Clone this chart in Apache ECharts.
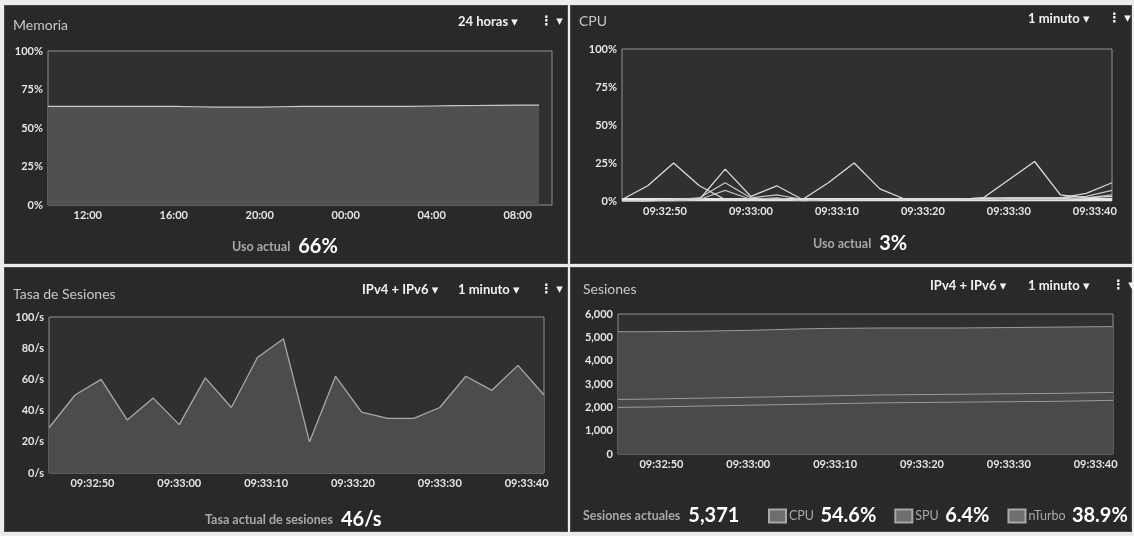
<!DOCTYPE html>
<html><head><meta charset="utf-8">
<script src="https://cdn.jsdelivr.net/npm/echarts@6/dist/echarts.min.js"></script>
<style>
html,body{margin:0;padding:0;background:#eeeeee;}
#wrap{position:relative;width:1134px;height:536px;overflow:hidden;background:#ececec;}
.panel{position:absolute;background:#292929;border:1px solid #474747;box-sizing:border-box;}
#chart{position:absolute;left:0;top:0;width:1134px;height:536px;}
</style></head><body>
<div id="wrap">
<div class="panel" style="left:4px;top:5px;width:564px;height:259px"></div>
<div class="panel" style="left:570px;top:5px;width:562px;height:259px"></div>
<div class="panel" style="left:4px;top:267px;width:564px;height:265px"></div>
<div class="panel" style="left:570px;top:267px;width:562px;height:265px"></div>
<div id="chart"></div>
</div>
<script>
// ---------- DATA ----------
// Memoria (24 horas): hours since 00:00 of the first day
const memHours = [10.15, 11, 12, 13, 14, 15, 16, 17, 18, 19, 20, 21, 22, 23, 24, 25, 26, 27, 28, 29, 30, 31, 32, 33];
const memUsage = [64, 64, 64, 64, 64, 64, 64, 63.8, 63.6, 63.5, 63.6, 63.8, 64, 64, 64, 64, 64, 64.1, 64.3, 64.5, 64.6, 64.7, 64.8, 64.8];
const memTicks = [12, 16, 20, 24, 28, 32];

// 1 minuto: seconds after 09:32:00
const secTimes = [45, 48, 51, 54, 57, 60, 63, 66, 69, 72, 75, 78, 81, 84, 87, 90, 93, 96, 99, 102];
const secTicks = [50, 60, 70, 80, 90, 100];

// CPU (%) per core
const cpuCore1 = [1, 10, 25, 10, 1, 1, 1, 1, 12, 25, 8, 1, 1, 1, 2, 14, 26, 4, 2, 3];
const cpuCore2 = [0, 0, 1, 1, 21, 3, 10, 1, 1, 1, 1, 1, 1, 1, 2, 2, 2, 2, 5, 12];
const cpuCore3 = [0, 0, 1, 2, 12, 2, 4, 1, 1, 1, 1, 1, 1, 1, 1, 2, 2, 2, 3, 7];
const cpuCore4 = [0, 0, 0, 1, 7, 1, 2, 0, 1, 1, 1, 1, 1, 1, 1, 1, 1, 1, 2, 4];
const cpuCore5 = [1, 1, 1, 1, 1, 1, 1, 1, 1, 1, 1, 1, 1, 1, 1, 1, 1, 1, 1, 1];

// Tasa de Sesiones (/s)
const sessionRate = [29, 50, 60, 34, 48, 31, 61, 42, 74, 86, 20, 62, 39, 35, 35, 42, 62, 53, 69, 50];

// Sesiones (stacked: nTurbo at the bottom, then SPU, then CPU)
const sessNTurbo = [2000, 2010, 2030, 2050, 2070, 2090, 2110, 2130, 2150, 2170, 2190, 2200, 2210, 2220, 2230, 2240, 2250, 2260, 2280, 2300];
const sessSPU = [340, 340, 340, 340, 340, 340, 340, 340, 340, 340, 340, 340, 340, 340, 340, 340, 340, 340, 340, 340];
const sessCPU = [2900, 2890, 2880, 2870, 2870, 2870, 2880, 2890, 2890, 2880, 2870, 2860, 2850, 2840, 2840, 2840, 2840, 2840, 2830, 2820];
const shareNames = ['CPU', 'SPU', 'nTurbo'];
const sharePct = ['54.6%', '6.4%', '38.9%'];

const memCurrent = '66%';
const cpuCurrent = '3%';
const rateCurrent = '46/s';
const sessCurrent = '5,371';

// ---------- CHART ----------
const FONT = 'Lato, "DejaVu Sans", sans-serif';
const pad = n => (n < 10 ? '0' : '') + n;
const secLabel = v => '09:' + pad(32 + Math.floor(v / 60)) + ':' + pad(Math.round(v % 60));
const hourLabel = v => pad(Math.round(v) % 24) + ':00';
const pairs = (xs, ys) => xs.map((x, i) => [x, ys[i]]);
// cumulative layers for the stacked sessions chart
const layerLow = sessNTurbo;
const layerMid = sessNTurbo.map((v, i) => v + sessSPU[i]);
const layerTop = layerMid.map((v, i) => v + sessCPU[i]);

const labelStyle = {color: '#e6e6e6', fontSize: 11, fontWeight: 'bold', fontFamily: FONT};
const gridBase = {show: true, backgroundColor: '#303030', borderColor: '#909090', borderWidth: 1};

function xAxis(gi, min, max, ticks, fmt) {
  return {
    type: 'value', gridIndex: gi, min: min, max: max,
    axisLine: {show: false}, splitLine: {show: false},
    axisTick: {show: false, customValues: ticks},
    axisLabel: Object.assign({margin: 5, formatter: fmt, customValues: ticks}, labelStyle)
  };
}
function yAxis(gi, max, interval, fmt) {
  return {
    type: 'value', gridIndex: gi, min: 0, max: max, interval: interval,
    axisLine: {show: false}, axisTick: {show: false}, splitLine: {show: false},
    axisLabel: Object.assign({margin: 5, formatter: fmt}, labelStyle)
  };
}
const cpuLine = (name, d, w, c) => ({
  name: name, type: 'line', xAxisIndex: 1, yAxisIndex: 1, showSymbol: false,
  data: pairs(secTimes, d), lineStyle: {color: c, width: w}, itemStyle: {color: c}
});
const sessSeries = (name, d, fill, z) => ({
  name: name, type: 'line', xAxisIndex: 3, yAxisIndex: 3, showSymbol: false, z: z,
  data: pairs(secTimes, d), lineStyle: {color: '#9a9a9a', width: 1},
  itemStyle: {color: '#6e6e6e', borderColor: '#a8a8a8', borderWidth: 1},
  areaStyle: {color: fill, opacity: 1}
});

const titleStyle = {color: '#c8c8c8', fontSize: 14, fontWeight: 'normal', fontFamily: FONT};
const curRich = {
  l: {color: '#a8a8a8', fontSize: 12.5, fontFamily: FONT, padding: [0, 3, 0, 0]},
  v: {color: '#ffffff', fontSize: 20, fontWeight: 'bold', fontFamily: FONT}
};
const ctrl = (x, y, text) => ({
  type: 'text', left: x, top: y, silent: true,
  style: {text: text, fill: '#f2f2f2', font: 'bold 13px ' + FONT}
});

const chart = echarts.init(document.getElementById('chart'), null, {renderer: 'canvas'});
chart.setOption({
  backgroundColor: 'transparent',
  animation: false,
  title: [
    {text: 'Memoria', left: 8, top: 13, textStyle: titleStyle},
    {text: 'CPU', left: 574, top: 9, textStyle: titleStyle},
    {text: 'Tasa de Sesiones', left: 8, top: 282, textStyle: titleStyle},
    {text: 'Sesiones', left: 578, top: 277, textStyle: titleStyle},
    {text: '{l|Uso actual} {v|' + memCurrent + '}', left: 227, top: 232, textStyle: {rich: curRich}},
    {text: '{l|Uso actual} {v|' + cpuCurrent + '}', left: 808, top: 229, textStyle: {rich: curRich}},
    {text: '{l|Tasa actual de sesiones} {v|' + rateCurrent + '}', left: 200, top: 505, textStyle: {rich: curRich}},
    {text: '{l|Sesiones actuales} {v|' + sessCurrent + '}', left: 578, top: 501, textStyle: {rich: curRich}}
  ],
  graphic: [
    ctrl(458, 15, '24 horas ▾'), ctrl(540, 14, '⋮ ▾'),
    ctrl(1028, 12, '1 minuto ▾'), ctrl(1108, 11, '⋮ ▾'),
    ctrl(362, 283, 'IPv4 + IPv6 ▾'), ctrl(458, 283, '1 minuto ▾'), ctrl(540, 282, '⋮ ▾'),
    ctrl(930, 279, 'IPv4 + IPv6 ▾'), ctrl(1028, 279, '1 minuto ▾'), ctrl(1112, 278, '⋮ ▾')
  ],
  legend: {
    data: shareNames, left: 768, top: 506, padding: 0, itemWidth: 17, itemHeight: 13, itemGap: 18, icon: 'rect',
    selectedMode: false,
    formatter: name => '{n|' + name + '} {v|' + sharePct[shareNames.indexOf(name)] + '}',
    textStyle: {padding: [0, 0, 0, -2], rich: {
      n: {color: '#a8a8a8', fontSize: 12.5, fontFamily: FONT, padding: [0, 3, 0, 0]},
      v: {color: '#ffffff', fontSize: 20, fontWeight: 'bold', fontFamily: FONT}
    }}
  },
  grid: [
    Object.assign({left: 48, top: 51, width: 504, height: 154}, gridBase),
    Object.assign({left: 622, top: 49, width: 490, height: 152}, gridBase),
    Object.assign({left: 49, top: 317, width: 495, height: 156}, gridBase),
    Object.assign({left: 618, top: 314, width: 495, height: 140}, gridBase)
  ],
  xAxis: [
    xAxis(0, 10.15, 33.6, memTicks, hourLabel),
    xAxis(1, 45, 102, secTicks, secLabel),
    xAxis(2, 45, 102, secTicks, secLabel),
    xAxis(3, 45, 102, secTicks, secLabel)
  ],
  yAxis: [
    yAxis(0, 100, 25, '{value}%'),
    yAxis(1, 100, 25, '{value}%'),
    yAxis(2, 100, 20, '{value}/s'),
    yAxis(3, 6000, 1000, v => v.toLocaleString('en-US'))
  ],
  series: [
    {name: 'Memoria', type: 'line', xAxisIndex: 0, yAxisIndex: 0, showSymbol: false,
     data: pairs(memHours, memUsage), lineStyle: {color: '#c8c8c8', width: 1.2},
     areaStyle: {color: '#505050', opacity: 1}},
    cpuLine('c5', cpuCore5, 3, '#e6e6e6'),
    cpuLine('c4', cpuCore4, 1.2, '#bdbdbd'),
    cpuLine('c3', cpuCore3, 1.2, '#c8c8c8'),
    cpuLine('c2', cpuCore2, 1.3, '#d6d6d6'),
    cpuLine('c1', cpuCore1, 1.3, '#dcdcdc'),
    {name: 'Tasa', type: 'line', xAxisIndex: 2, yAxisIndex: 2, showSymbol: false,
     data: pairs(secTimes, sessionRate), lineStyle: {color: '#a8a8a8', width: 1.3},
     areaStyle: {color: '#4c4c4c', opacity: 1}},
    sessSeries('CPU', layerTop, '#4a4a4a', 2),
    sessSeries('SPU', layerMid, '#4a4a4a', 3),
    sessSeries('nTurbo', layerLow, '#4a4a4a', 4)
  ]
});
</script>
</body></html>
